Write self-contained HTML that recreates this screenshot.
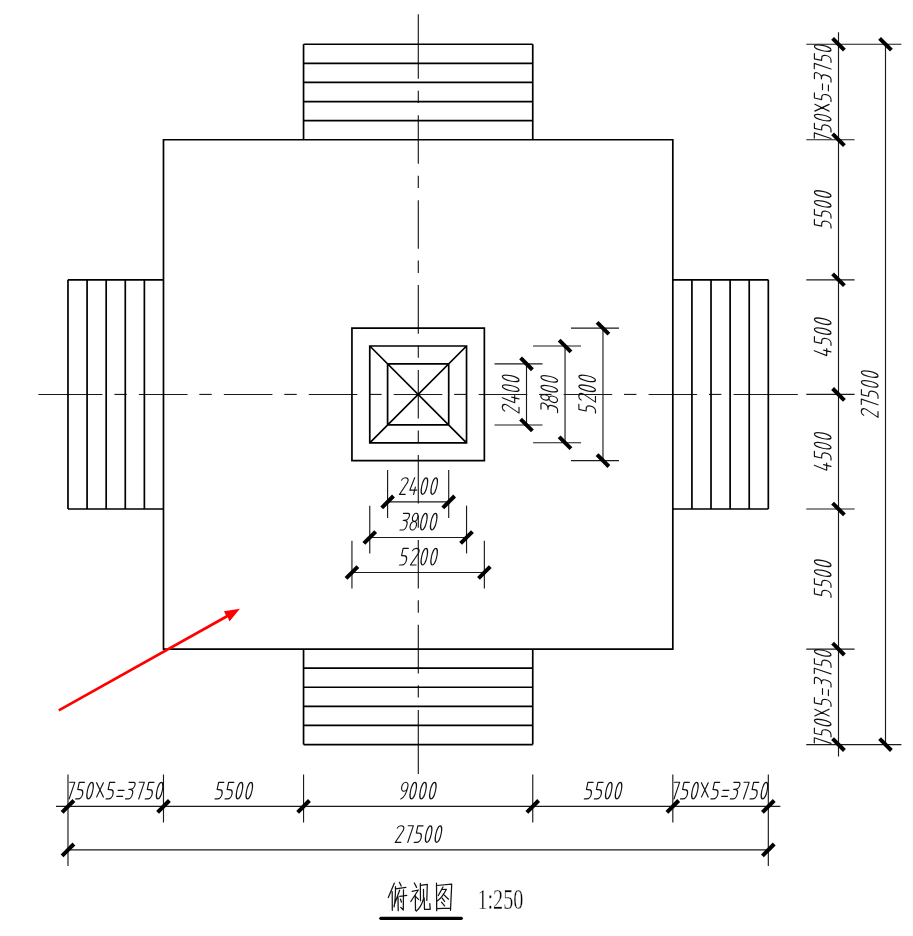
<!DOCTYPE html>
<html><head><meta charset="utf-8"><title>俯视图</title>
<style>
html,body{margin:0;padding:0;background:#fff;}
body{width:913px;height:936px;overflow:hidden;font-family:"Liberation Sans",sans-serif;}
svg{display:block;}
.ax{stroke:#1a1a1a;stroke-width:1.15;}
.dm{stroke:#1a1a1a;stroke-width:1.15;}
.ob{fill:none;stroke:#000;stroke-width:1.7;stroke-linejoin:miter;}
.tk{stroke:#000;stroke-width:4.0;}
.t path{fill:none;stroke:#111;stroke-width:1.15;stroke-linecap:round;stroke-linejoin:round;}
</style></head>
<body><svg width="913" height="936" viewBox="0 0 913 936">
<rect width="913" height="936" fill="#fff"/>
<line x1="38.4" y1="394.45" x2="102.5" y2="394.45" class="ax"/>
<line x1="114.4" y1="394.45" x2="126.8" y2="394.45" class="ax"/>
<line x1="138.9" y1="394.45" x2="187.5" y2="394.45" class="ax"/>
<line x1="199.34" y1="394.45" x2="211.74" y2="394.45" class="ax"/>
<line x1="223.84" y1="394.45" x2="272.44" y2="394.45" class="ax"/>
<line x1="284.28" y1="394.45" x2="296.68" y2="394.45" class="ax"/>
<line x1="308.78" y1="394.45" x2="357.38" y2="394.45" class="ax"/>
<line x1="369.22" y1="394.45" x2="381.62" y2="394.45" class="ax"/>
<line x1="393.72" y1="394.45" x2="442.32" y2="394.45" class="ax"/>
<line x1="454.16" y1="394.45" x2="466.56" y2="394.45" class="ax"/>
<line x1="478.66" y1="394.45" x2="527.26" y2="394.45" class="ax"/>
<line x1="539.1" y1="394.45" x2="551.5" y2="394.45" class="ax"/>
<line x1="563.6" y1="394.45" x2="612.2" y2="394.45" class="ax"/>
<line x1="624.04" y1="394.45" x2="636.44" y2="394.45" class="ax"/>
<line x1="648.54" y1="394.45" x2="697.14" y2="394.45" class="ax"/>
<line x1="708.98" y1="394.45" x2="721.38" y2="394.45" class="ax"/>
<line x1="733.5" y1="394.45" x2="797.8" y2="394.45" class="ax"/>
<line x1="418.3" y1="14.3" x2="418.3" y2="78.7" class="ax"/>
<line x1="418.3" y1="90.7" x2="418.3" y2="103" class="ax"/>
<line x1="418.3" y1="115.2" x2="418.3" y2="163.8" class="ax"/>
<line x1="418.3" y1="175.64" x2="418.3" y2="187.94" class="ax"/>
<line x1="418.3" y1="200.14" x2="418.3" y2="248.74" class="ax"/>
<line x1="418.3" y1="260.58" x2="418.3" y2="272.88" class="ax"/>
<line x1="418.3" y1="285.08" x2="418.3" y2="333.68" class="ax"/>
<line x1="418.3" y1="345.52" x2="418.3" y2="357.82" class="ax"/>
<line x1="418.3" y1="370.02" x2="418.3" y2="418.62" class="ax"/>
<line x1="418.3" y1="430.46" x2="418.3" y2="442.76" class="ax"/>
<line x1="418.3" y1="454.96" x2="418.3" y2="503.56" class="ax"/>
<line x1="418.3" y1="515.4" x2="418.3" y2="527.7" class="ax"/>
<line x1="418.3" y1="539.9" x2="418.3" y2="588.5" class="ax"/>
<line x1="418.3" y1="600.34" x2="418.3" y2="612.64" class="ax"/>
<line x1="418.3" y1="624.84" x2="418.3" y2="673.44" class="ax"/>
<line x1="418.3" y1="685.28" x2="418.3" y2="697.58" class="ax"/>
<line x1="418.3" y1="710" x2="418.3" y2="774" class="ax"/>
<path class="ob" d="M163.48,139.73H672.82V649.07H163.48ZM303.55,44.23L303.55,139.73M532.75,44.23L532.75,139.73M303.55,44.23L532.75,44.23M303.55,63.33L532.75,63.33M303.55,82.43L532.75,82.43M303.55,101.53L532.75,101.53M303.55,120.63L532.75,120.63M67.98,279.8L163.48,279.8M67.98,509L163.48,509M67.98,279.8L67.98,509M87.08,279.8L87.08,509M106.18,279.8L106.18,509M125.28,279.8L125.28,509M144.38,279.8L144.38,509M303.55,744.57L303.55,649.07M532.75,744.57L532.75,649.07M303.55,744.57L532.75,744.57M303.55,725.47L532.75,725.47M303.55,706.37L532.75,706.37M303.55,687.27L532.75,687.27M303.55,668.17L532.75,668.17M768.32,279.8L672.82,279.8M768.32,509L672.82,509M768.32,279.8L768.32,509M749.22,279.8L749.22,509M730.12,279.8L730.12,509M711.02,279.8L711.02,509M691.92,279.8L691.92,509M351.94,328.19H484.36V460.61H351.94ZM369.76,346.01H466.54V442.79H369.76ZM387.59,363.84H448.71V424.96H387.59ZM369.76,346.01L466.54,442.79M466.54,346.01L369.76,442.79"/>
<line x1="55.98" y1="806.43" x2="780.32" y2="806.43" class="dm"/>
<line x1="67.98" y1="849.9" x2="768.32" y2="849.9" class="dm"/>
<line x1="67.98" y1="774.53" x2="67.98" y2="866.1" class="dm"/>
<line x1="163.48" y1="774.53" x2="163.48" y2="822.53" class="dm"/>
<line x1="303.55" y1="774.53" x2="303.55" y2="822.53" class="dm"/>
<line x1="532.75" y1="774.53" x2="532.75" y2="822.53" class="dm"/>
<line x1="672.82" y1="774.53" x2="672.82" y2="822.53" class="dm"/>
<line x1="768.32" y1="774.53" x2="768.32" y2="866.1" class="dm"/>
<g class="t" transform="translate(66.07,798.93) skewX(-11.9)"><path transform="translate(0,0)" d="M0,-16.7 L5.2,-16.7 L3.1,0"/><path transform="translate(9.6,0)" d="M5.3,-16.6 L0.1,-16.6 L0.1,-9.4 C1.2,-9.3 2.6,-9.3 3.7,-9.1 C5.2,-8.6 5.9,-7.2 5.9,-5 C5.9,-1.8 4.6,-0.1 2.3,0 L0,0"/><path transform="translate(19.6,0)" d="M2.65,-16.6 C1.19,-16.6 0,-12.88 0,-8.3 C0,-3.72 1.19,0 2.65,0 C4.11,0 5.3,-3.72 5.3,-8.3 C5.3,-12.88 4.11,-16.6 2.65,-16.6Z"/><path transform="translate(29.4,0)" d="M-2.31,-16.2 L7.5,-1.9 M4.49,-16.2 L0.7,-1.9"/><path transform="translate(40,0)" d="M5.3,-16.6 L0.1,-16.6 L0.1,-9.4 C1.2,-9.3 2.6,-9.3 3.7,-9.1 C5.2,-8.6 5.9,-7.2 5.9,-5 C5.9,-1.8 4.6,-0.1 2.3,0 L0,0"/><path transform="translate(50,0)" d="M0.2,-8.5 L6.1,-8.5 M0.2,-2.6 L6.1,-2.6"/><path transform="translate(59.45,0)" d="M0,-16.6 L4.7,-16.6 C5.9,-16.6 6.6,-15.6 6.5,-14 C6.3,-11.4 4.9,-9.6 2.4,-9.6 L1.3,-9.6 M2.4,-9.6 C4.8,-9.5 6,-8 5.9,-5.5 C5.8,-2.1 4.9,-0.2 3.1,0 L0,0"/><path transform="translate(69.55,0)" d="M0,-16.7 L5.2,-16.7 L3.1,0"/><path transform="translate(79.15,0)" d="M5.3,-16.6 L0.1,-16.6 L0.1,-9.4 C1.2,-9.3 2.6,-9.3 3.7,-9.1 C5.2,-8.6 5.9,-7.2 5.9,-5 C5.9,-1.8 4.6,-0.1 2.3,0 L0,0"/><path transform="translate(89.15,0)" d="M2.65,-16.6 C1.19,-16.6 0,-12.88 0,-8.3 C0,-3.72 1.19,0 2.65,0 C4.11,0 5.3,-3.72 5.3,-8.3 C5.3,-12.88 4.11,-16.6 2.65,-16.6Z"/></g>
<g class="t" transform="translate(215.08,798.93) skewX(-11.9)"><path transform="translate(0,0)" d="M5.3,-16.6 L0.1,-16.6 L0.1,-9.4 C1.2,-9.3 2.6,-9.3 3.7,-9.1 C5.2,-8.6 5.9,-7.2 5.9,-5 C5.9,-1.8 4.6,-0.1 2.3,0 L0,0"/><path transform="translate(10,0)" d="M5.3,-16.6 L0.1,-16.6 L0.1,-9.4 C1.2,-9.3 2.6,-9.3 3.7,-9.1 C5.2,-8.6 5.9,-7.2 5.9,-5 C5.9,-1.8 4.6,-0.1 2.3,0 L0,0"/><path transform="translate(20,0)" d="M2.65,-16.6 C1.19,-16.6 0,-12.88 0,-8.3 C0,-3.72 1.19,0 2.65,0 C4.11,0 5.3,-3.72 5.3,-8.3 C5.3,-12.88 4.11,-16.6 2.65,-16.6Z"/><path transform="translate(29.8,0)" d="M2.65,-16.6 C1.19,-16.6 0,-12.88 0,-8.3 C0,-3.72 1.19,0 2.65,0 C4.11,0 5.3,-3.72 5.3,-8.3 C5.3,-12.88 4.11,-16.6 2.65,-16.6Z"/></g>
<g class="t" transform="translate(399.18,798.93) skewX(-11.9)"><path transform="translate(0,0)" d="M3.05,-16.7 C1.37,-16.7 0,-14.69 0,-12.2 C0,-9.71 1.37,-7.7 3.05,-7.7 C4.73,-7.7 6.1,-9.71 6.1,-12.2 C6.1,-14.69 4.73,-16.7 3.05,-16.7Z M6.1,-12.2 C6.1,-6.5 4.8,-1.5 1.6,0"/><path transform="translate(9.66,0)" d="M2.65,-16.6 C1.19,-16.6 0,-12.88 0,-8.3 C0,-3.72 1.19,0 2.65,0 C4.11,0 5.3,-3.72 5.3,-8.3 C5.3,-12.88 4.11,-16.6 2.65,-16.6Z"/><path transform="translate(19.46,0)" d="M2.65,-16.6 C1.19,-16.6 0,-12.88 0,-8.3 C0,-3.72 1.19,0 2.65,0 C4.11,0 5.3,-3.72 5.3,-8.3 C5.3,-12.88 4.11,-16.6 2.65,-16.6Z"/><path transform="translate(29.26,0)" d="M2.65,-16.6 C1.19,-16.6 0,-12.88 0,-8.3 C0,-3.72 1.19,0 2.65,0 C4.11,0 5.3,-3.72 5.3,-8.3 C5.3,-12.88 4.11,-16.6 2.65,-16.6Z"/></g>
<g class="t" transform="translate(584.35,798.93) skewX(-11.9)"><path transform="translate(0,0)" d="M5.3,-16.6 L0.1,-16.6 L0.1,-9.4 C1.2,-9.3 2.6,-9.3 3.7,-9.1 C5.2,-8.6 5.9,-7.2 5.9,-5 C5.9,-1.8 4.6,-0.1 2.3,0 L0,0"/><path transform="translate(10,0)" d="M5.3,-16.6 L0.1,-16.6 L0.1,-9.4 C1.2,-9.3 2.6,-9.3 3.7,-9.1 C5.2,-8.6 5.9,-7.2 5.9,-5 C5.9,-1.8 4.6,-0.1 2.3,0 L0,0"/><path transform="translate(20,0)" d="M2.65,-16.6 C1.19,-16.6 0,-12.88 0,-8.3 C0,-3.72 1.19,0 2.65,0 C4.11,0 5.3,-3.72 5.3,-8.3 C5.3,-12.88 4.11,-16.6 2.65,-16.6Z"/><path transform="translate(29.8,0)" d="M2.65,-16.6 C1.19,-16.6 0,-12.88 0,-8.3 C0,-3.72 1.19,0 2.65,0 C4.11,0 5.3,-3.72 5.3,-8.3 C5.3,-12.88 4.11,-16.6 2.65,-16.6Z"/></g>
<g class="t" transform="translate(670.91,798.93) skewX(-11.9)"><path transform="translate(0,0)" d="M0,-16.7 L5.2,-16.7 L3.1,0"/><path transform="translate(9.6,0)" d="M5.3,-16.6 L0.1,-16.6 L0.1,-9.4 C1.2,-9.3 2.6,-9.3 3.7,-9.1 C5.2,-8.6 5.9,-7.2 5.9,-5 C5.9,-1.8 4.6,-0.1 2.3,0 L0,0"/><path transform="translate(19.6,0)" d="M2.65,-16.6 C1.19,-16.6 0,-12.88 0,-8.3 C0,-3.72 1.19,0 2.65,0 C4.11,0 5.3,-3.72 5.3,-8.3 C5.3,-12.88 4.11,-16.6 2.65,-16.6Z"/><path transform="translate(29.4,0)" d="M-2.31,-16.2 L7.5,-1.9 M4.49,-16.2 L0.7,-1.9"/><path transform="translate(40,0)" d="M5.3,-16.6 L0.1,-16.6 L0.1,-9.4 C1.2,-9.3 2.6,-9.3 3.7,-9.1 C5.2,-8.6 5.9,-7.2 5.9,-5 C5.9,-1.8 4.6,-0.1 2.3,0 L0,0"/><path transform="translate(50,0)" d="M0.2,-8.5 L6.1,-8.5 M0.2,-2.6 L6.1,-2.6"/><path transform="translate(59.45,0)" d="M0,-16.6 L4.7,-16.6 C5.9,-16.6 6.6,-15.6 6.5,-14 C6.3,-11.4 4.9,-9.6 2.4,-9.6 L1.3,-9.6 M2.4,-9.6 C4.8,-9.5 6,-8 5.9,-5.5 C5.8,-2.1 4.9,-0.2 3.1,0 L0,0"/><path transform="translate(69.55,0)" d="M0,-16.7 L5.2,-16.7 L3.1,0"/><path transform="translate(79.15,0)" d="M5.3,-16.6 L0.1,-16.6 L0.1,-9.4 C1.2,-9.3 2.6,-9.3 3.7,-9.1 C5.2,-8.6 5.9,-7.2 5.9,-5 C5.9,-1.8 4.6,-0.1 2.3,0 L0,0"/><path transform="translate(89.15,0)" d="M2.65,-16.6 C1.19,-16.6 0,-12.88 0,-8.3 C0,-3.72 1.19,0 2.65,0 C4.11,0 5.3,-3.72 5.3,-8.3 C5.3,-12.88 4.11,-16.6 2.65,-16.6Z"/></g>
<g class="t" transform="translate(394.26,842.4) skewX(-11.9)"><path transform="translate(0,0)" d="M0,-14.3 C0.5,-15.9 1.7,-16.7 3.1,-16.7 C5.2,-16.7 6.7,-15.4 6.7,-13.3 C6.7,-12 6.1,-10.7 5.4,-9.6 L0.9,0 L6.6,0"/><path transform="translate(10.4,0)" d="M0,-16.7 L5.2,-16.7 L3.1,0"/><path transform="translate(20,0)" d="M5.3,-16.6 L0.1,-16.6 L0.1,-9.4 C1.2,-9.3 2.6,-9.3 3.7,-9.1 C5.2,-8.6 5.9,-7.2 5.9,-5 C5.9,-1.8 4.6,-0.1 2.3,0 L0,0"/><path transform="translate(30,0)" d="M2.65,-16.6 C1.19,-16.6 0,-12.88 0,-8.3 C0,-3.72 1.19,0 2.65,0 C4.11,0 5.3,-3.72 5.3,-8.3 C5.3,-12.88 4.11,-16.6 2.65,-16.6Z"/><path transform="translate(39.8,0)" d="M2.65,-16.6 C1.19,-16.6 0,-12.88 0,-8.3 C0,-3.72 1.19,0 2.65,0 C4.11,0 5.3,-3.72 5.3,-8.3 C5.3,-12.88 4.11,-16.6 2.65,-16.6Z"/></g>
<line x1="62.08" y1="812.33" x2="73.88" y2="800.53" class="tk"/>
<line x1="157.58" y1="812.33" x2="169.38" y2="800.53" class="tk"/>
<line x1="297.65" y1="812.33" x2="309.45" y2="800.53" class="tk"/>
<line x1="526.85" y1="812.33" x2="538.65" y2="800.53" class="tk"/>
<line x1="666.92" y1="812.33" x2="678.72" y2="800.53" class="tk"/>
<line x1="762.42" y1="812.33" x2="774.22" y2="800.53" class="tk"/>
<line x1="62.08" y1="855.8" x2="73.88" y2="844" class="tk"/>
<line x1="762.42" y1="855.8" x2="774.22" y2="844" class="tk"/>
<line x1="838.5" y1="32.23" x2="838.5" y2="756.57" class="dm"/>
<line x1="885.5" y1="44.23" x2="885.5" y2="744.57" class="dm"/>
<line x1="806.3" y1="44.23" x2="901.4" y2="44.23" class="dm"/>
<line x1="806.3" y1="139.73" x2="854.6" y2="139.73" class="dm"/>
<line x1="806.3" y1="279.8" x2="854.6" y2="279.8" class="dm"/>
<line x1="806.3" y1="394.4" x2="854.6" y2="394.4" class="dm"/>
<line x1="806.3" y1="509" x2="854.6" y2="509" class="dm"/>
<line x1="806.3" y1="649.07" x2="854.6" y2="649.07" class="dm"/>
<line x1="806.3" y1="744.57" x2="901.4" y2="744.57" class="dm"/>
<g class="t" transform="translate(831,141.64) rotate(-90) skewX(-11.9)"><path transform="translate(0,0)" d="M0,-16.7 L5.2,-16.7 L3.1,0"/><path transform="translate(9.6,0)" d="M5.3,-16.6 L0.1,-16.6 L0.1,-9.4 C1.2,-9.3 2.6,-9.3 3.7,-9.1 C5.2,-8.6 5.9,-7.2 5.9,-5 C5.9,-1.8 4.6,-0.1 2.3,0 L0,0"/><path transform="translate(19.6,0)" d="M2.65,-16.6 C1.19,-16.6 0,-12.88 0,-8.3 C0,-3.72 1.19,0 2.65,0 C4.11,0 5.3,-3.72 5.3,-8.3 C5.3,-12.88 4.11,-16.6 2.65,-16.6Z"/><path transform="translate(29.4,0)" d="M-2.31,-16.2 L7.5,-1.9 M4.49,-16.2 L0.7,-1.9"/><path transform="translate(40,0)" d="M5.3,-16.6 L0.1,-16.6 L0.1,-9.4 C1.2,-9.3 2.6,-9.3 3.7,-9.1 C5.2,-8.6 5.9,-7.2 5.9,-5 C5.9,-1.8 4.6,-0.1 2.3,0 L0,0"/><path transform="translate(50,0)" d="M0.2,-8.5 L6.1,-8.5 M0.2,-2.6 L6.1,-2.6"/><path transform="translate(59.45,0)" d="M0,-16.6 L4.7,-16.6 C5.9,-16.6 6.6,-15.6 6.5,-14 C6.3,-11.4 4.9,-9.6 2.4,-9.6 L1.3,-9.6 M2.4,-9.6 C4.8,-9.5 6,-8 5.9,-5.5 C5.8,-2.1 4.9,-0.2 3.1,0 L0,0"/><path transform="translate(69.55,0)" d="M0,-16.7 L5.2,-16.7 L3.1,0"/><path transform="translate(79.15,0)" d="M5.3,-16.6 L0.1,-16.6 L0.1,-9.4 C1.2,-9.3 2.6,-9.3 3.7,-9.1 C5.2,-8.6 5.9,-7.2 5.9,-5 C5.9,-1.8 4.6,-0.1 2.3,0 L0,0"/><path transform="translate(89.15,0)" d="M2.65,-16.6 C1.19,-16.6 0,-12.88 0,-8.3 C0,-3.72 1.19,0 2.65,0 C4.11,0 5.3,-3.72 5.3,-8.3 C5.3,-12.88 4.11,-16.6 2.65,-16.6Z"/></g>
<g class="t" transform="translate(831,228.2) rotate(-90) skewX(-11.9)"><path transform="translate(0,0)" d="M5.3,-16.6 L0.1,-16.6 L0.1,-9.4 C1.2,-9.3 2.6,-9.3 3.7,-9.1 C5.2,-8.6 5.9,-7.2 5.9,-5 C5.9,-1.8 4.6,-0.1 2.3,0 L0,0"/><path transform="translate(10,0)" d="M5.3,-16.6 L0.1,-16.6 L0.1,-9.4 C1.2,-9.3 2.6,-9.3 3.7,-9.1 C5.2,-8.6 5.9,-7.2 5.9,-5 C5.9,-1.8 4.6,-0.1 2.3,0 L0,0"/><path transform="translate(20,0)" d="M2.65,-16.6 C1.19,-16.6 0,-12.88 0,-8.3 C0,-3.72 1.19,0 2.65,0 C4.11,0 5.3,-3.72 5.3,-8.3 C5.3,-12.88 4.11,-16.6 2.65,-16.6Z"/><path transform="translate(29.8,0)" d="M2.65,-16.6 C1.19,-16.6 0,-12.88 0,-8.3 C0,-3.72 1.19,0 2.65,0 C4.11,0 5.3,-3.72 5.3,-8.3 C5.3,-12.88 4.11,-16.6 2.65,-16.6Z"/></g>
<g class="t" transform="translate(831,356.54) rotate(-90) skewX(-11.9)"><path transform="translate(0,0)" d="M2.3,-16.7 L0,-4.3 L7.06,-4.3 M4.9,-7.4 L4.7,0"/><path transform="translate(11.1,0)" d="M5.3,-16.6 L0.1,-16.6 L0.1,-9.4 C1.2,-9.3 2.6,-9.3 3.7,-9.1 C5.2,-8.6 5.9,-7.2 5.9,-5 C5.9,-1.8 4.6,-0.1 2.3,0 L0,0"/><path transform="translate(21.1,0)" d="M2.65,-16.6 C1.19,-16.6 0,-12.88 0,-8.3 C0,-3.72 1.19,0 2.65,0 C4.11,0 5.3,-3.72 5.3,-8.3 C5.3,-12.88 4.11,-16.6 2.65,-16.6Z"/><path transform="translate(30.9,0)" d="M2.65,-16.6 C1.19,-16.6 0,-12.88 0,-8.3 C0,-3.72 1.19,0 2.65,0 C4.11,0 5.3,-3.72 5.3,-8.3 C5.3,-12.88 4.11,-16.6 2.65,-16.6Z"/></g>
<g class="t" transform="translate(831,471.14) rotate(-90) skewX(-11.9)"><path transform="translate(0,0)" d="M2.3,-16.7 L0,-4.3 L7.06,-4.3 M4.9,-7.4 L4.7,0"/><path transform="translate(11.1,0)" d="M5.3,-16.6 L0.1,-16.6 L0.1,-9.4 C1.2,-9.3 2.6,-9.3 3.7,-9.1 C5.2,-8.6 5.9,-7.2 5.9,-5 C5.9,-1.8 4.6,-0.1 2.3,0 L0,0"/><path transform="translate(21.1,0)" d="M2.65,-16.6 C1.19,-16.6 0,-12.88 0,-8.3 C0,-3.72 1.19,0 2.65,0 C4.11,0 5.3,-3.72 5.3,-8.3 C5.3,-12.88 4.11,-16.6 2.65,-16.6Z"/><path transform="translate(30.9,0)" d="M2.65,-16.6 C1.19,-16.6 0,-12.88 0,-8.3 C0,-3.72 1.19,0 2.65,0 C4.11,0 5.3,-3.72 5.3,-8.3 C5.3,-12.88 4.11,-16.6 2.65,-16.6Z"/></g>
<g class="t" transform="translate(831,597.47) rotate(-90) skewX(-11.9)"><path transform="translate(0,0)" d="M5.3,-16.6 L0.1,-16.6 L0.1,-9.4 C1.2,-9.3 2.6,-9.3 3.7,-9.1 C5.2,-8.6 5.9,-7.2 5.9,-5 C5.9,-1.8 4.6,-0.1 2.3,0 L0,0"/><path transform="translate(10,0)" d="M5.3,-16.6 L0.1,-16.6 L0.1,-9.4 C1.2,-9.3 2.6,-9.3 3.7,-9.1 C5.2,-8.6 5.9,-7.2 5.9,-5 C5.9,-1.8 4.6,-0.1 2.3,0 L0,0"/><path transform="translate(20,0)" d="M2.65,-16.6 C1.19,-16.6 0,-12.88 0,-8.3 C0,-3.72 1.19,0 2.65,0 C4.11,0 5.3,-3.72 5.3,-8.3 C5.3,-12.88 4.11,-16.6 2.65,-16.6Z"/><path transform="translate(29.8,0)" d="M2.65,-16.6 C1.19,-16.6 0,-12.88 0,-8.3 C0,-3.72 1.19,0 2.65,0 C4.11,0 5.3,-3.72 5.3,-8.3 C5.3,-12.88 4.11,-16.6 2.65,-16.6Z"/></g>
<g class="t" transform="translate(831,746.48) rotate(-90) skewX(-11.9)"><path transform="translate(0,0)" d="M0,-16.7 L5.2,-16.7 L3.1,0"/><path transform="translate(9.6,0)" d="M5.3,-16.6 L0.1,-16.6 L0.1,-9.4 C1.2,-9.3 2.6,-9.3 3.7,-9.1 C5.2,-8.6 5.9,-7.2 5.9,-5 C5.9,-1.8 4.6,-0.1 2.3,0 L0,0"/><path transform="translate(19.6,0)" d="M2.65,-16.6 C1.19,-16.6 0,-12.88 0,-8.3 C0,-3.72 1.19,0 2.65,0 C4.11,0 5.3,-3.72 5.3,-8.3 C5.3,-12.88 4.11,-16.6 2.65,-16.6Z"/><path transform="translate(29.4,0)" d="M-2.31,-16.2 L7.5,-1.9 M4.49,-16.2 L0.7,-1.9"/><path transform="translate(40,0)" d="M5.3,-16.6 L0.1,-16.6 L0.1,-9.4 C1.2,-9.3 2.6,-9.3 3.7,-9.1 C5.2,-8.6 5.9,-7.2 5.9,-5 C5.9,-1.8 4.6,-0.1 2.3,0 L0,0"/><path transform="translate(50,0)" d="M0.2,-8.5 L6.1,-8.5 M0.2,-2.6 L6.1,-2.6"/><path transform="translate(59.45,0)" d="M0,-16.6 L4.7,-16.6 C5.9,-16.6 6.6,-15.6 6.5,-14 C6.3,-11.4 4.9,-9.6 2.4,-9.6 L1.3,-9.6 M2.4,-9.6 C4.8,-9.5 6,-8 5.9,-5.5 C5.8,-2.1 4.9,-0.2 3.1,0 L0,0"/><path transform="translate(69.55,0)" d="M0,-16.7 L5.2,-16.7 L3.1,0"/><path transform="translate(79.15,0)" d="M5.3,-16.6 L0.1,-16.6 L0.1,-9.4 C1.2,-9.3 2.6,-9.3 3.7,-9.1 C5.2,-8.6 5.9,-7.2 5.9,-5 C5.9,-1.8 4.6,-0.1 2.3,0 L0,0"/><path transform="translate(89.15,0)" d="M2.65,-16.6 C1.19,-16.6 0,-12.88 0,-8.3 C0,-3.72 1.19,0 2.65,0 C4.11,0 5.3,-3.72 5.3,-8.3 C5.3,-12.88 4.11,-16.6 2.65,-16.6Z"/></g>
<g class="t" transform="translate(878,418.29) rotate(-90) skewX(-11.9)"><path transform="translate(0,0)" d="M0,-14.3 C0.5,-15.9 1.7,-16.7 3.1,-16.7 C5.2,-16.7 6.7,-15.4 6.7,-13.3 C6.7,-12 6.1,-10.7 5.4,-9.6 L0.9,0 L6.6,0"/><path transform="translate(10.4,0)" d="M0,-16.7 L5.2,-16.7 L3.1,0"/><path transform="translate(20,0)" d="M5.3,-16.6 L0.1,-16.6 L0.1,-9.4 C1.2,-9.3 2.6,-9.3 3.7,-9.1 C5.2,-8.6 5.9,-7.2 5.9,-5 C5.9,-1.8 4.6,-0.1 2.3,0 L0,0"/><path transform="translate(30,0)" d="M2.65,-16.6 C1.19,-16.6 0,-12.88 0,-8.3 C0,-3.72 1.19,0 2.65,0 C4.11,0 5.3,-3.72 5.3,-8.3 C5.3,-12.88 4.11,-16.6 2.65,-16.6Z"/><path transform="translate(39.8,0)" d="M2.65,-16.6 C1.19,-16.6 0,-12.88 0,-8.3 C0,-3.72 1.19,0 2.65,0 C4.11,0 5.3,-3.72 5.3,-8.3 C5.3,-12.88 4.11,-16.6 2.65,-16.6Z"/></g>
<line x1="832.6" y1="38.33" x2="844.4" y2="50.13" class="tk"/>
<line x1="832.6" y1="133.83" x2="844.4" y2="145.63" class="tk"/>
<line x1="832.6" y1="273.9" x2="844.4" y2="285.7" class="tk"/>
<line x1="832.6" y1="388.5" x2="844.4" y2="400.3" class="tk"/>
<line x1="832.6" y1="503.1" x2="844.4" y2="514.9" class="tk"/>
<line x1="832.6" y1="643.17" x2="844.4" y2="654.97" class="tk"/>
<line x1="832.6" y1="738.67" x2="844.4" y2="750.47" class="tk"/>
<line x1="879.6" y1="38.33" x2="891.4" y2="50.13" class="tk"/>
<line x1="879.6" y1="738.67" x2="891.4" y2="750.47" class="tk"/>
<line x1="387.59" y1="501.9" x2="448.71" y2="501.9" class="dm"/>
<line x1="387.59" y1="470.1" x2="387.59" y2="517.9" class="dm"/>
<line x1="448.71" y1="470.1" x2="448.71" y2="517.9" class="dm"/>
<g class="t" transform="translate(398.51,494.4) skewX(-11.9)"><path transform="translate(0,0)" d="M0,-14.3 C0.5,-15.9 1.7,-16.7 3.1,-16.7 C5.2,-16.7 6.7,-15.4 6.7,-13.3 C6.7,-12 6.1,-10.7 5.4,-9.6 L0.9,0 L6.6,0"/><path transform="translate(10.4,0)" d="M2.3,-16.7 L0,-4.3 L7.06,-4.3 M4.9,-7.4 L4.7,0"/><path transform="translate(21.5,0)" d="M2.65,-16.6 C1.19,-16.6 0,-12.88 0,-8.3 C0,-3.72 1.19,0 2.65,0 C4.11,0 5.3,-3.72 5.3,-8.3 C5.3,-12.88 4.11,-16.6 2.65,-16.6Z"/><path transform="translate(31.3,0)" d="M2.65,-16.6 C1.19,-16.6 0,-12.88 0,-8.3 C0,-3.72 1.19,0 2.65,0 C4.11,0 5.3,-3.72 5.3,-8.3 C5.3,-12.88 4.11,-16.6 2.65,-16.6Z"/></g>
<line x1="381.69" y1="507.8" x2="393.49" y2="496" class="tk"/>
<line x1="442.81" y1="507.8" x2="454.61" y2="496" class="tk"/>
<line x1="369.76" y1="537.45" x2="466.54" y2="537.45" class="dm"/>
<line x1="369.76" y1="505.65" x2="369.76" y2="553.45" class="dm"/>
<line x1="466.54" y1="505.65" x2="466.54" y2="553.45" class="dm"/>
<g class="t" transform="translate(399.93,529.95) skewX(-11.9)"><path transform="translate(0,0)" d="M0,-16.6 L4.7,-16.6 C5.9,-16.6 6.6,-15.6 6.5,-14 C6.3,-11.4 4.9,-9.6 2.4,-9.6 L1.3,-9.6 M2.4,-9.6 C4.8,-9.5 6,-8 5.9,-5.5 C5.8,-2.1 4.9,-0.2 3.1,0 L0,0"/><path transform="translate(10.1,0)" d="M2.5,-16.7 C1.06,-16.7 -0.1,-14.86 -0.1,-12.6 C-0.1,-10.34 1.06,-8.5 2.5,-8.5 C3.94,-8.5 5.1,-10.34 5.1,-12.6 C5.1,-14.86 3.94,-16.7 2.5,-16.7Z M2.3,-8.6 C0.59,-8.6 -0.8,-6.67 -0.8,-4.3 C-0.8,-1.93 0.59,0 2.3,0 C4.01,0 5.4,-1.93 5.4,-4.3 C5.4,-6.67 4.01,-8.6 2.3,-8.6Z"/><path transform="translate(19.56,0)" d="M2.65,-16.6 C1.19,-16.6 0,-12.88 0,-8.3 C0,-3.72 1.19,0 2.65,0 C4.11,0 5.3,-3.72 5.3,-8.3 C5.3,-12.88 4.11,-16.6 2.65,-16.6Z"/><path transform="translate(29.36,0)" d="M2.65,-16.6 C1.19,-16.6 0,-12.88 0,-8.3 C0,-3.72 1.19,0 2.65,0 C4.11,0 5.3,-3.72 5.3,-8.3 C5.3,-12.88 4.11,-16.6 2.65,-16.6Z"/></g>
<line x1="363.86" y1="543.35" x2="375.66" y2="531.55" class="tk"/>
<line x1="460.64" y1="543.35" x2="472.44" y2="531.55" class="tk"/>
<line x1="351.94" y1="572.5" x2="484.36" y2="572.5" class="dm"/>
<line x1="351.94" y1="540.7" x2="351.94" y2="588.5" class="dm"/>
<line x1="484.36" y1="540.7" x2="484.36" y2="588.5" class="dm"/>
<g class="t" transform="translate(399.51,565) skewX(-11.9)"><path transform="translate(0,0)" d="M5.3,-16.6 L0.1,-16.6 L0.1,-9.4 C1.2,-9.3 2.6,-9.3 3.7,-9.1 C5.2,-8.6 5.9,-7.2 5.9,-5 C5.9,-1.8 4.6,-0.1 2.3,0 L0,0"/><path transform="translate(10,0)" d="M0,-14.3 C0.5,-15.9 1.7,-16.7 3.1,-16.7 C5.2,-16.7 6.7,-15.4 6.7,-13.3 C6.7,-12 6.1,-10.7 5.4,-9.6 L0.9,0 L6.6,0"/><path transform="translate(20.4,0)" d="M2.65,-16.6 C1.19,-16.6 0,-12.88 0,-8.3 C0,-3.72 1.19,0 2.65,0 C4.11,0 5.3,-3.72 5.3,-8.3 C5.3,-12.88 4.11,-16.6 2.65,-16.6Z"/><path transform="translate(30.2,0)" d="M2.65,-16.6 C1.19,-16.6 0,-12.88 0,-8.3 C0,-3.72 1.19,0 2.65,0 C4.11,0 5.3,-3.72 5.3,-8.3 C5.3,-12.88 4.11,-16.6 2.65,-16.6Z"/></g>
<line x1="346.04" y1="578.4" x2="357.84" y2="566.6" class="tk"/>
<line x1="478.46" y1="578.4" x2="490.26" y2="566.6" class="tk"/>
<line x1="526.5" y1="363.84" x2="526.5" y2="424.96" class="dm"/>
<line x1="494.5" y1="363.84" x2="542.5" y2="363.84" class="dm"/>
<line x1="494.5" y1="424.96" x2="542.5" y2="424.96" class="dm"/>
<g class="t" transform="translate(519,414.04) rotate(-90) skewX(-11.9)"><path transform="translate(0,0)" d="M0,-14.3 C0.5,-15.9 1.7,-16.7 3.1,-16.7 C5.2,-16.7 6.7,-15.4 6.7,-13.3 C6.7,-12 6.1,-10.7 5.4,-9.6 L0.9,0 L6.6,0"/><path transform="translate(10.4,0)" d="M2.3,-16.7 L0,-4.3 L7.06,-4.3 M4.9,-7.4 L4.7,0"/><path transform="translate(21.5,0)" d="M2.65,-16.6 C1.19,-16.6 0,-12.88 0,-8.3 C0,-3.72 1.19,0 2.65,0 C4.11,0 5.3,-3.72 5.3,-8.3 C5.3,-12.88 4.11,-16.6 2.65,-16.6Z"/><path transform="translate(31.3,0)" d="M2.65,-16.6 C1.19,-16.6 0,-12.88 0,-8.3 C0,-3.72 1.19,0 2.65,0 C4.11,0 5.3,-3.72 5.3,-8.3 C5.3,-12.88 4.11,-16.6 2.65,-16.6Z"/></g>
<line x1="520.6" y1="357.94" x2="532.4" y2="369.74" class="tk"/>
<line x1="520.6" y1="419.06" x2="532.4" y2="430.86" class="tk"/>
<line x1="565.05" y1="346.01" x2="565.05" y2="442.79" class="dm"/>
<line x1="533.05" y1="346.01" x2="581.05" y2="346.01" class="dm"/>
<line x1="533.05" y1="442.79" x2="581.05" y2="442.79" class="dm"/>
<g class="t" transform="translate(557.55,412.62) rotate(-90) skewX(-11.9)"><path transform="translate(0,0)" d="M0,-16.6 L4.7,-16.6 C5.9,-16.6 6.6,-15.6 6.5,-14 C6.3,-11.4 4.9,-9.6 2.4,-9.6 L1.3,-9.6 M2.4,-9.6 C4.8,-9.5 6,-8 5.9,-5.5 C5.8,-2.1 4.9,-0.2 3.1,0 L0,0"/><path transform="translate(10.1,0)" d="M2.5,-16.7 C1.06,-16.7 -0.1,-14.86 -0.1,-12.6 C-0.1,-10.34 1.06,-8.5 2.5,-8.5 C3.94,-8.5 5.1,-10.34 5.1,-12.6 C5.1,-14.86 3.94,-16.7 2.5,-16.7Z M2.3,-8.6 C0.59,-8.6 -0.8,-6.67 -0.8,-4.3 C-0.8,-1.93 0.59,0 2.3,0 C4.01,0 5.4,-1.93 5.4,-4.3 C5.4,-6.67 4.01,-8.6 2.3,-8.6Z"/><path transform="translate(19.56,0)" d="M2.65,-16.6 C1.19,-16.6 0,-12.88 0,-8.3 C0,-3.72 1.19,0 2.65,0 C4.11,0 5.3,-3.72 5.3,-8.3 C5.3,-12.88 4.11,-16.6 2.65,-16.6Z"/><path transform="translate(29.36,0)" d="M2.65,-16.6 C1.19,-16.6 0,-12.88 0,-8.3 C0,-3.72 1.19,0 2.65,0 C4.11,0 5.3,-3.72 5.3,-8.3 C5.3,-12.88 4.11,-16.6 2.65,-16.6Z"/></g>
<line x1="559.15" y1="340.11" x2="570.95" y2="351.91" class="tk"/>
<line x1="559.15" y1="436.89" x2="570.95" y2="448.69" class="tk"/>
<line x1="602.97" y1="328.19" x2="602.97" y2="460.61" class="dm"/>
<line x1="570.97" y1="328.19" x2="618.97" y2="328.19" class="dm"/>
<line x1="570.97" y1="460.61" x2="618.97" y2="460.61" class="dm"/>
<g class="t" transform="translate(595.47,413.04) rotate(-90) skewX(-11.9)"><path transform="translate(0,0)" d="M5.3,-16.6 L0.1,-16.6 L0.1,-9.4 C1.2,-9.3 2.6,-9.3 3.7,-9.1 C5.2,-8.6 5.9,-7.2 5.9,-5 C5.9,-1.8 4.6,-0.1 2.3,0 L0,0"/><path transform="translate(10,0)" d="M0,-14.3 C0.5,-15.9 1.7,-16.7 3.1,-16.7 C5.2,-16.7 6.7,-15.4 6.7,-13.3 C6.7,-12 6.1,-10.7 5.4,-9.6 L0.9,0 L6.6,0"/><path transform="translate(20.4,0)" d="M2.65,-16.6 C1.19,-16.6 0,-12.88 0,-8.3 C0,-3.72 1.19,0 2.65,0 C4.11,0 5.3,-3.72 5.3,-8.3 C5.3,-12.88 4.11,-16.6 2.65,-16.6Z"/><path transform="translate(30.2,0)" d="M2.65,-16.6 C1.19,-16.6 0,-12.88 0,-8.3 C0,-3.72 1.19,0 2.65,0 C4.11,0 5.3,-3.72 5.3,-8.3 C5.3,-12.88 4.11,-16.6 2.65,-16.6Z"/></g>
<line x1="597.07" y1="322.29" x2="608.87" y2="334.09" class="tk"/>
<line x1="597.07" y1="454.71" x2="608.87" y2="466.51" class="tk"/>
<line x1="58.8" y1="710.4" x2="231" y2="614" stroke="#ff0000" stroke-width="2.6"/>
<path d="M239.9,608.8 L224,611.3 L225.9,615.2 L228,617.6 L229.4,621.4 Z" fill="#ff0000"/>
<path d="M394.3,883.2L388.3,897.5 M392.2,891.6L392.3,910.3 M399.4,882.3L401.2,886 M395.5,888.8L405.9,887.4 M395.5,886.7C395.5,893 395.3,900 394.1,906.8 M399.6,890.2L394.1,905.4 M398,896.6L398.2,910.7 M399.8,896.4L406.8,895.3 M403.5,889.9L403.3,910L400.8,907.3 M400.5,899.2L401.5,902.2 M414.3,883L416.6,887.4 M412.2,891.3L418.3,890L410.8,901.5 M415.3,895.5L415.5,910.3 M415.7,896.6L418.5,899.4 M420.3,883.3L420.5,900.8 M420.6,885.3L427.3,884.4L426.8,900.5 M423.5,889.3L423.5,897.6 M423.8,897.6C422.5,903 420,908 416.4,911 M424.2,898L424.5,909.3L430.2,909.3L429.8,903.6 M436.5,883.2L436.7,910.7 M436.7,885.5L451.7,884.2L450.5,910.3 M436.9,908.7L450.3,908.2 M443,887L438.3,895.5 M441.8,889.5L446.4,889.3C444,894 441,898.5 437.6,900.8 M443.2,894.1L448.5,899.2 M442.2,898.2L444.6,901.3 M441.5,902.2L444.6,905.9" fill="none" stroke="#111" stroke-width="1.25" stroke-linecap="round" stroke-linejoin="round"/>
<line x1="380.8" y1="918.3" x2="461.3" y2="918.3" stroke="#000" stroke-width="3.2" stroke-linecap="round"/>
<text x="0" y="0" transform="translate(477.4,908.8) scale(0.697,1)" font-family="Liberation Serif, serif" font-size="29" fill="#000" stroke="#fff" stroke-width="0.4" style="paint-order:fill stroke;filter:grayscale(1)">1:250</text>
</svg></body></html>
